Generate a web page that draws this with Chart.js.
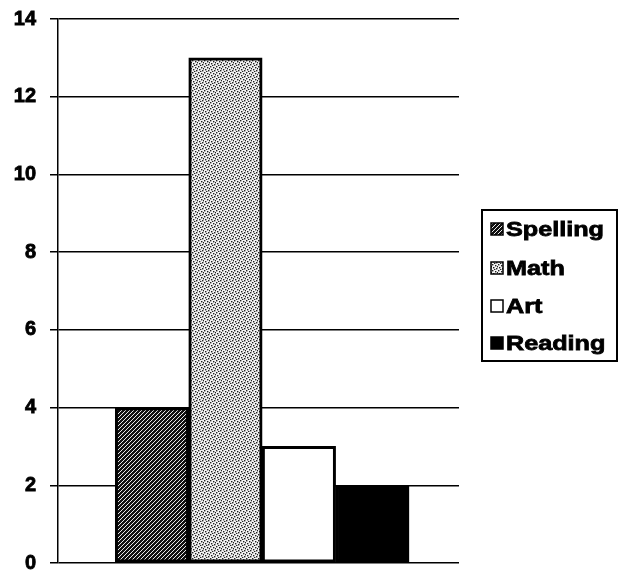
<!DOCTYPE html>
<html>
<head>
<meta charset="utf-8">
<script src="https://cdn.jsdelivr.net/npm/chart.js@4"></script>
<style>
  html, body { margin: 0; padding: 0; background: #fff; }
  #wrap { width: 623px; height: 572px; }
</style>
</head>
<body>
<div id="wrap"><canvas id="subjectsChart" width="623" height="572"></canvas></div>
<script>
const subjects = ['Spelling', 'Math', 'Art', 'Reading'];
const counts = [4, 13, 3, 2];
const yTicks = [0, 2, 4, 6, 8, 10, 12, 14];

const FONT = 'Liberation Sans, Arial, sans-serif';

// small tiles used as bar fills
function hatchPattern() {
  const c = document.createElement('canvas');
  c.width = 4; c.height = 4;
  const g = c.getContext('2d');
  g.fillStyle = '#111';
  g.fillRect(0, 0, 4, 4);
  g.strokeStyle = '#e8e8e8';
  g.lineWidth = 1;
  g.beginPath();
  g.moveTo(0, 4); g.lineTo(4, 0);
  g.moveTo(-1, 1); g.lineTo(1, -1);
  g.moveTo(3, 5); g.lineTo(5, 3);
  g.stroke();
  return g.createPattern(c, 'repeat');
}

function dotPattern() {
  const c = document.createElement('canvas');
  c.width = 6; c.height = 6;
  const g = c.getContext('2d');
  g.fillStyle = '#f4f4f4';
  g.fillRect(0, 0, 6, 6);
  g.fillStyle = '#222';
  [[0, 0], [3, 1], [1, 3], [4, 4], [5, 2], [2, 5]].forEach(([x, y]) => g.fillRect(x, y, 1.4, 1.4));
  return g.createPattern(c, 'repeat');
}

const fills = [hatchPattern(), dotPattern(), '#ffffff', '#000000'];

// boxed legend to the right of the plot
const boxedLegend = {
  id: 'boxedLegend',
  afterDraw(chart) {
    const ctx = chart.ctx;
    const left = 482, top = 210, right = 617, bottom = 361;
    const rowY = [229, 268, 306, 343];
    ctx.save();
    ctx.strokeStyle = '#000';
    ctx.lineWidth = 2;
    ctx.strokeRect(left, top, right - left, bottom - top);
    subjects.forEach((name, i) => {
      const y = rowY[i];
      ctx.fillStyle = fills[i];
      ctx.fillRect(491, y - 6, 12, 12);
      ctx.lineWidth = 1.5;
      ctx.strokeRect(491, y - 6, 12, 12);
      ctx.save();
      ctx.translate(506, y);
      ctx.scale(1.2, 1);
      ctx.fillStyle = '#000';
      ctx.strokeStyle = '#000';
      ctx.lineWidth = 0.8;
      ctx.font = 'bold 21px ' + FONT;
      ctx.textBaseline = 'middle';
      ctx.fillText(name, 0, 1);
      ctx.strokeText(name, 0, 1);
      ctx.restore();
    });
    ctx.restore();
  }
};

const ctx = document.getElementById('subjectsChart').getContext('2d');

new Chart(ctx, {
  type: 'bar',
  data: {
    datasets: [{
      data: counts.map((v, i) => ({ x: i, y: v })),
      backgroundColor: fills,
      borderColor: '#000',
      borderWidth: 3,
      borderSkipped: false,
      barPercentage: 1,
      categoryPercentage: 1
    }]
  },
  options: {
    responsive: false,
    animation: false,
    layout: { padding: { top: 19, right: 164, bottom: 9, left: 0 } },
    plugins: {
      legend: { display: false },
      tooltip: { enabled: false }
    },
    scales: {
      x: { type: 'linear', display: false, min: -1.28, max: 4.18, offset: false },
      y: {
        min: 0,
        max: 14,
        afterBuildTicks(axis) { axis.ticks = yTicks.map(v => ({ value: v })); },
        afterFit(axis) {
          axis.width = 58;
          axis.paddingTop = 0;
          axis.paddingBottom = 0;
        },
        ticks: {
          color: '#000',
          padding: 14,
          textStrokeColor: '#000',
          textStrokeWidth: 0.8,
          font: { family: FONT, size: 20, weight: 'bold' }
        },
        grid: { color: '#000', lineWidth: 1.5, tickLength: 8, drawTicks: true },
        border: { display: true, color: '#000', width: 1.5 }
      }
    }
  },
  plugins: [boxedLegend]
});
</script>
</body>
</html>
